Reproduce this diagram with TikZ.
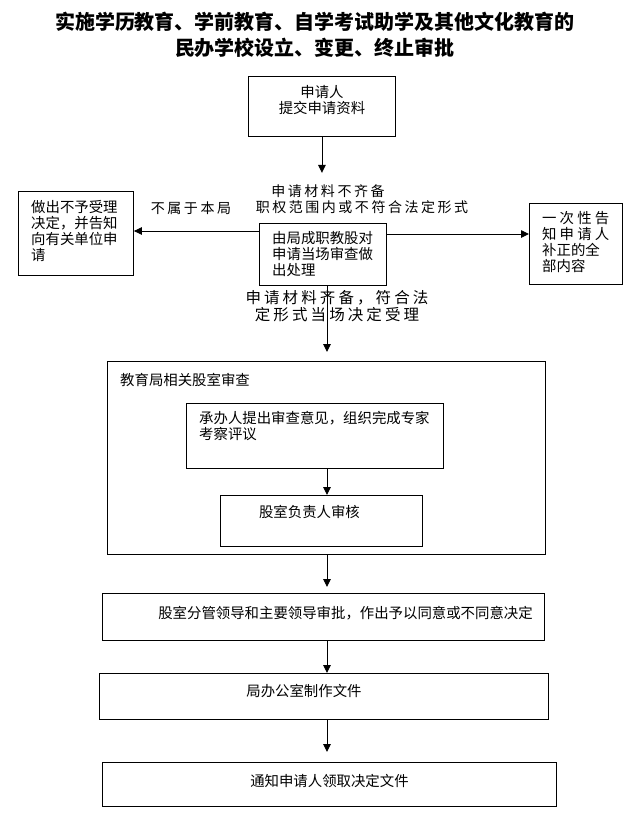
\documentclass[tikz,border=0pt]{standalone}
\usepackage{fontspec}
\setmainfont{Noto Sans CJK SC}
\usetikzlibrary{arrows.meta,positioning,calc}
\definecolor{flowink}{HTML}{000000}
\tikzset{
  flow/.style={x=1pt, y=-1pt, text=flowink, font=\fontsize{14.4}{16}\selectfont},
  flowtitle/.style={inner sep=0pt, align=center, font=\bfseries\fontsize{20}{26}\selectfont},
  flowbox/.style={draw=flowink, line width=0.9pt, anchor=north west, inner sep=0pt},
  flowtxt/.style={inner sep=0pt, align=left},
  flowlbl/.style={inner sep=0pt, align=center,
    font=\fontsize{14}{16}\selectfont\addfontfeature{LetterSpace=18}},
  flowlblbig/.style={flowlbl,
    font=\fontsize{15.5}{17}\selectfont\addfontfeature{LetterSpace=20}},
  flowarr/.style={-{Triangle[length=8pt,width=7.5pt]}, line width=0.9pt, draw=flowink},
}
\newcommand{\spreadline}[2]{\makebox[#1][s]{#2}}

\begin{document}
\begin{tikzpicture}[flow]
  \useasboundingbox (0,0) rectangle (634,820);
  \node[flowtitle] (title) at (315,35) {实施学历教育、学前教育、自学考试助学及其他文化教育的\\民办学校设立、变更、终止审批};
  \coordinate (spine) at (327,0);
  % application
  \node[flowbox, minimum width=147, minimum height=60] (apply) at (248,76) {};
  \node[flowtxt, align=center, below=9pt of apply.north] (applytxt) {申请人\\提交申请资料};
  \coordinate (gap1) at ($(apply.south)+(0,36)$);
  \draw[flowarr] (apply) -- (gap1);
  % on-the-spot check
  \node[flowlbl] (lack) at (328,191) {申请材料不齐备};
  \node[flowlbl] (scope) at (362,207) {职权范围内或不符合法定形式};
  \node[flowlbl] (outside) at (191,208) {不属于本局};
  \node[flowbox, minimum width=127, minimum height=62] (handle) at (259,223) {};
  \node[flowtxt, below right=8pt and 13pt of handle.north west] (handletxt) {由局成职教股对\\申请当场审查做\\出处理};
  \node[flowbox, minimum width=115, minimum height=84] (refuse) at (18,191) {};
  \node[flowtxt, below right=9pt and 13pt of refuse.north west] (refusetxt) {做出不予受理\\决定，并告知\\向有关单位申\\请};
  \node[flowbox, minimum width=93, minimum height=81] (notify) at (529,203) {};
  \node[flowtxt, below right=8pt and 13pt of notify.north west] (notifytxt) {%
    \spreadline{67pt}{一\hfill 次\hfill 性\hfill 告}\\
    \spreadline{67pt}{知\hfill 申\hfill 请\hfill 人}\\
    补正的全\\部内容};
  \coordinate (leftout) at ($(handle.north west)+(0,8)$);
  \coordinate (rightout) at ($(handle.north east)+(0,11)$);
  \draw[flowarr] (leftout) -- (leftout -| refuse.east);
  \draw[flowarr] (rightout) -- (rightout -| notify.west);
  \node[flowlblbig] (accept) at (337,306) {申请材料齐备，符合法\\定形式当场决定受理};
  % review by the section
  \node[flowbox, minimum width=438, minimum height=193] (review) at (107,361) {};
  \node[flowtxt, below right=12pt and 13pt of review.north west] (reviewtxt) {教育局相关股室审查};
  \node[flowbox, minimum width=257, minimum height=65] (opinion) at (186,403) {};
  \node[flowtxt, below right=8pt and 13pt of opinion.north west] (opiniontxt) {承办人提出审查意见，组织完成专家\\考察评议};
  \node[flowbox, minimum width=202, minimum height=51] (check) at (220,495) {};
  \node[flowtxt] (checktxt) at ($(check.center)+(-12,-8.5)$) {股室负责人审核};
  \coordinate (gap2) at ($(review.north -| spine)+(0,-9)$);
  \draw[flowarr] (handle.south -| spine) -- (gap2);
  \draw[flowarr] (opinion.south -| spine) -- (check.north -| spine);
  % decision and documents
  \node[flowbox, minimum width=442, minimum height=47] (approve) at (102,593) {};
  \node[flowtxt, below left=13pt and 12pt of approve.north east] (approvetxt) {股室分管领导和主要领导审批，作出予以同意或不同意决定};
  \node[flowbox, minimum width=449, minimum height=46] (draft) at (99,673) {};
  \node[flowtxt] (drafttxt) at ($(draft.center)+(-20,-5)$) {局办公室制作文件};
  \node[flowbox, minimum width=454, minimum height=44] (inform) at (102,762) {};
  \node[flowtxt] (informtxt) at ($(inform.center)+(0,-3)$) {通知申请人领取决定文件};
  \coordinate (gap3) at ($(approve.north -| spine)+(0,-6)$);
  \coordinate (gap4) at ($(inform.north -| spine)+(0,-10)$);
  \draw[flowarr] (review.south -| spine) -- (gap3);
  \draw[flowarr] (approve.south -| spine) -- (draft.north -| spine);
  \draw[flowarr] (draft.south -| spine) -- (gap4);
\end{tikzpicture}
\end{document}
